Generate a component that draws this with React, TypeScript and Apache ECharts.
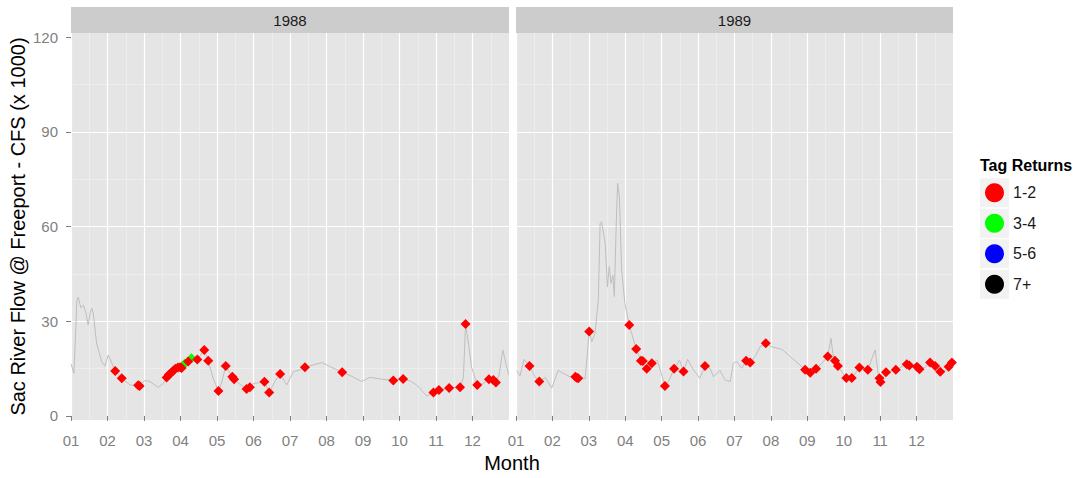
import React, { useEffect, useRef } from 'react';
import * as echarts from 'echarts';

const FONT = "'Liberation Sans', Arial, Helvetica, sans-serif";

const monthLabels = ['01', '02', '03', '04', '05', '06', '07', '08', '09', '10', '11', '12'];
const monthTicks = [1, 2, 3, 4, 5, 6, 7, 8, 9, 10, 11, 12];
const yTickValues = [0, 30, 60, 90, 120];
const facetYears = ['1988', '1989'];
const tagClasses = ['1-2', '3-4', '5-6', '7+'];
const tagColors = ['#FF0000', '#00FF00', '#0000FF', '#000000'];

// [month position (1 = Jan 1), flow in 1000 CFS]
const flow1988: [number, number][] = [
  [1.0, 16.5], [1.08, 13.5], [1.12, 24], [1.16, 36.7], [1.2, 37.6], [1.27, 34.2], [1.34, 35.1],
  [1.41, 32.5], [1.47, 28.8], [1.53, 33], [1.57, 34.1], [1.61, 32.6], [1.7, 23.1], [1.84, 17.2],
  [1.93, 15.8], [2.02, 19.3], [2.12, 16.7], [2.21, 14.2], [2.39, 11.9], [2.62, 9.8], [2.86, 9.6],
  [3.03, 11.2], [3.16, 10.9], [3.39, 9.0], [3.53, 10.3], [3.62, 12.2], [3.77, 13.5], [3.88, 14.5],
  [3.99, 15.1], [4.12, 16.5], [4.21, 17.2], [4.32, 18.3], [4.46, 17.9], [4.65, 20.9], [4.76, 17.5],
  [4.89, 12.0], [5.04, 7.9], [5.14, 11.0], [5.24, 15.8], [5.42, 12.4], [5.47, 11.6], [5.63, 10.0],
  [5.81, 8.5], [5.9, 9.1], [6.0, 10.3], [6.15, 10.5], [6.3, 10.8], [6.43, 7.4], [6.59, 11.0],
  [6.73, 13.3], [6.91, 9.8], [7.09, 14.0], [7.27, 14.6], [7.41, 15.4], [7.6, 16.0], [7.87, 16.9],
  [8.1, 15.6], [8.43, 13.8], [8.7, 12.5], [8.96, 10.9], [9.19, 12.2], [9.47, 11.7], [9.83, 11.2],
  [10.1, 11.7], [10.3, 11.0], [10.47, 9.8], [10.75, 6.3], [10.93, 7.4], [11.08, 8.2], [11.36, 8.8],
  [11.66, 9.1], [11.75, 12.0], [11.81, 29.1], [11.9, 22.0], [11.97, 15.6], [12.13, 9.8], [12.28, 10.2],
  [12.45, 11.6], [12.57, 11.4], [12.64, 10.6], [12.73, 13.0], [12.83, 20.9], [12.93, 16.0], [12.99, 13.0],
];

const flow1989: [number, number][] = [
  [1.02, 14.4], [1.11, 12.7], [1.22, 17.9], [1.37, 15.8], [1.52, 12.4], [1.64, 10.9], [1.8, 12.2],
  [1.98, 8.8], [2.16, 14.4], [2.3, 13.5], [2.48, 12.4], [2.62, 12.4], [2.73, 11.9], [2.9, 11.9],
  [3.01, 26.7], [3.08, 23.5], [3.17, 26.2], [3.26, 36.7], [3.31, 61.0], [3.35, 61.5], [3.45, 54.7],
  [3.51, 40.9], [3.56, 47.3], [3.61, 42.0], [3.66, 44.6], [3.7, 37.8], [3.75, 59.9], [3.79, 73.7],
  [3.84, 69.4], [3.9, 46.2], [3.99, 35.7], [4.11, 28.8], [4.3, 21.2], [4.43, 17.5], [4.59, 14.9],
  [4.73, 16.7], [4.87, 17.7], [4.96, 14.6], [5.09, 9.5], [5.21, 11.4], [5.34, 14.9], [5.49, 17.7],
  [5.6, 14.1], [5.71, 17.9], [5.87, 14.6], [6.05, 11.9], [6.19, 15.8], [6.33, 15.1], [6.42, 12.4],
  [6.6, 14.4], [6.74, 11.4], [6.88, 10.9], [6.97, 16.7], [7.06, 17.2], [7.2, 15.1], [7.32, 17.5],
  [7.43, 16.9], [7.57, 18.8], [7.7, 21.9], [7.86, 23.0], [8.02, 21.9], [8.3, 21.1], [8.53, 18.8],
  [8.8, 16.1], [8.94, 14.6], [9.08, 13.7], [9.24, 14.9], [9.4, 16.7], [9.56, 18.8], [9.65, 24.6],
  [9.7, 19.8], [9.76, 17.5], [9.84, 15.8], [10.07, 12.0], [10.22, 12.0], [10.43, 15.3], [10.66, 14.6],
  [10.86, 20.9], [10.95, 13.0], [11.01, 10.7], [11.16, 13.8], [11.43, 14.6], [11.73, 16.4],
  [12.01, 15.6], [12.08, 14.8], [12.24, 15.5], [12.37, 16.9], [12.51, 15.8], [12.65, 14.0],
  [12.79, 14.5], [12.88, 15.6], [12.97, 16.9],
];

const tags1988_12: [number, number][] = [
  [2.21, 14.2], [2.39, 11.9], [2.84, 9.7], [2.88, 9.5], [3.62, 12.2], [3.68, 13.0], [3.74, 13.6],
  [3.8, 14.3], [3.86, 14.9], [3.93, 15.3], [3.99, 15.4], [4.03, 15.2], [4.21, 17.2], [4.46, 17.9],
  [4.65, 20.9], [4.76, 17.5], [5.04, 7.9], [5.24, 15.8], [5.42, 12.4], [5.47, 11.6], [5.81, 8.5],
  [5.9, 9.1], [6.3, 10.8], [6.43, 7.4], [6.73, 13.3], [7.41, 15.4], [8.43, 13.8], [9.83, 11.2],
  [10.1, 11.7], [10.93, 7.4], [11.08, 8.2], [11.36, 8.8], [11.66, 9.1], [11.81, 29.1], [12.13, 9.8],
  [12.45, 11.6], [12.57, 11.4], [12.64, 10.6],
];
const tags1988_34: [number, number][] = [[4.12, 16.6], [4.3, 18.3]];

const tags1989_12: [number, number][] = [
  [1.37, 15.8], [1.64, 10.9], [2.63, 12.4], [2.67, 12.1], [2.71, 11.9], [3.01, 26.7], [4.11, 28.8],
  [4.3, 21.2], [4.43, 17.5], [4.48, 17.4], [4.59, 14.9], [4.73, 16.7], [5.09, 9.5], [5.34, 14.9],
  [5.6, 14.1], [6.19, 15.8], [7.32, 17.5], [7.43, 16.9], [7.86, 23.0], [8.94, 14.6], [9.08, 13.7],
  [9.24, 14.9], [9.56, 18.8], [9.76, 17.5], [9.84, 15.8], [10.07, 12.0], [10.22, 12.0], [10.43, 15.3],
  [10.66, 14.6], [10.98, 11.9], [11.01, 10.7], [11.16, 13.8], [11.43, 14.6], [11.73, 16.4],
  [11.8, 16.0], [12.01, 15.6], [12.08, 14.8], [12.37, 16.9], [12.51, 15.8], [12.65, 14.0],
  [12.88, 15.6], [12.97, 16.9],
];

export default function App() {
  const ref = useRef<HTMLDivElement>(null);

  useEffect(() => {
    if (!ref.current) return;
    const chart = echarts.init(ref.current, null, { renderer: 'svg' });

    const panels = [
      { left: 71, top: 33, width: 438, height: 387 },
      { left: 516, top: 33, width: 437, height: 387 },
    ];

    const tickLine = { color: '#7F7F7F', width: 1 };
    const labelStyle = { color: '#7F7F7F', fontSize: 15, fontFamily: FONT };

    const xAxes = panels.map((_, i) => ({
      type: 'value',
      gridIndex: i,
      min: 1,
      max: 13,
      interval: 1,
      axisLine: { show: false },
      axisTick: { show: true, length: 5, customValues: monthTicks, lineStyle: tickLine },
      axisLabel: {
        ...labelStyle,
        margin: 13,
        customValues: monthTicks,
        formatter: (v: number) => monthLabels[Math.round(v) - 1] ?? '',
      },
      splitLine: { show: true, lineStyle: { color: '#FFFFFF', width: 1.2 } },
      minorTick: { show: false, splitNumber: 2 },
      minorSplitLine: { show: true, lineStyle: { color: '#F2F2F2', width: 0.6 } },
    }));

    const yAxes = panels.map((_, i) => ({
      type: 'value',
      gridIndex: i,
      min: -1.3,
      max: 121.3,
      splitNumber: 4,
      name: i === 0 ? 'Sac River Flow @ Freeport - CFS (x 1000)' : '',
      nameLocation: 'middle',
      nameRotate: 90,
      nameGap: 43,
      nameTextStyle: { fontSize: 20, color: '#000000', fontFamily: FONT },
      axisLine: { show: false },
      axisTick: { show: i === 0, length: 5, customValues: yTickValues, lineStyle: tickLine },
      axisLabel: { show: i === 0, ...labelStyle, margin: 13, customValues: yTickValues },
      splitLine: {
        show: true,
        showMinLine: false,
        showMaxLine: false,
        lineStyle: { color: '#FFFFFF', width: 1.2 },
      },
      minorTick: { show: false, splitNumber: 2 },
      minorSplitLine: { show: true, lineStyle: { color: '#F2F2F2', width: 0.6 } },
    }));

    const lineSeries = [flow1988, flow1989].map((d, i) => ({
      type: 'line',
      name: 'flow' + facetYears[i],
      xAxisIndex: i,
      yAxisIndex: i,
      data: d,
      showSymbol: false,
      symbol: 'none',
      lineStyle: { color: '#BEBEBE', width: 1 },
      z: 2,
      silent: true,
    }));

    const scatter = (name: string, color: string, idx: number, data: [number, number][], z: number) => ({
      type: 'scatter',
      name,
      xAxisIndex: idx,
      yAxisIndex: idx,
      data,
      symbol: 'diamond',
      symbolSize: 10,
      itemStyle: { color, opacity: 1 },
      z,
    });

    const stripGraphics: any[] = [];
    panels.forEach((p, i) => {
      stripGraphics.push({
        type: 'rect',
        shape: { x: p.left, y: 7, width: p.width, height: 26 },
        style: { fill: '#CCCCCC' },
        silent: true,
      });
      stripGraphics.push({
        type: 'text',
        x: p.left + p.width / 2,
        y: 20,
        style: {
          text: facetYears[i],
          fill: '#1A1A1A',
          fontSize: 15,
          fontFamily: FONT,
          align: 'center',
          verticalAlign: 'middle',
        },
        silent: true,
      });
    });

    const keyGraphics = tagClasses.map((_, k) => ({
      type: 'rect',
      shape: { x: 980, y: 178.3 + k * 30.5, width: 29, height: 29 },
      style: { fill: '#F2F2F2' },
      silent: true,
      z: 0,
    }));

    const option: any = {
      animation: false,
      backgroundColor: '#FFFFFF',
      grid: panels.map((p) => ({
        ...p,
        show: true,
        backgroundColor: '#E5E5E5',
        borderWidth: 0,
        containLabel: false,
      })),
      xAxis: xAxes,
      yAxis: yAxes,
      legend: {
        orient: 'vertical',
        left: 985,
        top: 183.3,
        padding: 0,
        itemGap: 11.5,
        itemWidth: 19,
        itemHeight: 19,
        selectedMode: false,
        z: 10,
        data: tagClasses.map((n) => ({ name: n, icon: 'circle' })),
        textStyle: { fontSize: 16, color: '#1A1A1A', fontFamily: FONT, padding: [0, 0, 0, 4] },
      },
      graphic: [
        ...stripGraphics,
        ...keyGraphics,
        {
          type: 'text',
          x: 512,
          y: 463,
          style: {
            text: 'Month',
            fill: '#000000',
            fontSize: 20,
            fontFamily: FONT,
            align: 'center',
            verticalAlign: 'middle',
          },
          silent: true,
        },
        {
          type: 'text',
          x: 980,
          y: 165,
          style: {
            text: 'Tag Returns',
            fill: '#000000',
            fontSize: 16,
            fontWeight: 'bold',
            fontFamily: FONT,
            align: 'left',
            verticalAlign: 'middle',
          },
          silent: true,
        },
      ],
      series: [
        ...lineSeries,
        scatter(tagClasses[1], tagColors[1], 0, tags1988_34, 3),
        scatter(tagClasses[0], tagColors[0], 0, tags1988_12, 4),
        scatter(tagClasses[0], tagColors[0], 1, tags1989_12, 4),
        scatter(tagClasses[2], tagColors[2], 1, [], 4),
        scatter(tagClasses[3], tagColors[3], 1, [], 4),
      ],
    };

    chart.setOption(option);
    return () => chart.dispose();
  }, []);

  return (
    <div
      ref={ref}
      style={{ position: 'absolute', left: 0, top: 0, width: 1084, height: 478 }}
    />
  );
}
